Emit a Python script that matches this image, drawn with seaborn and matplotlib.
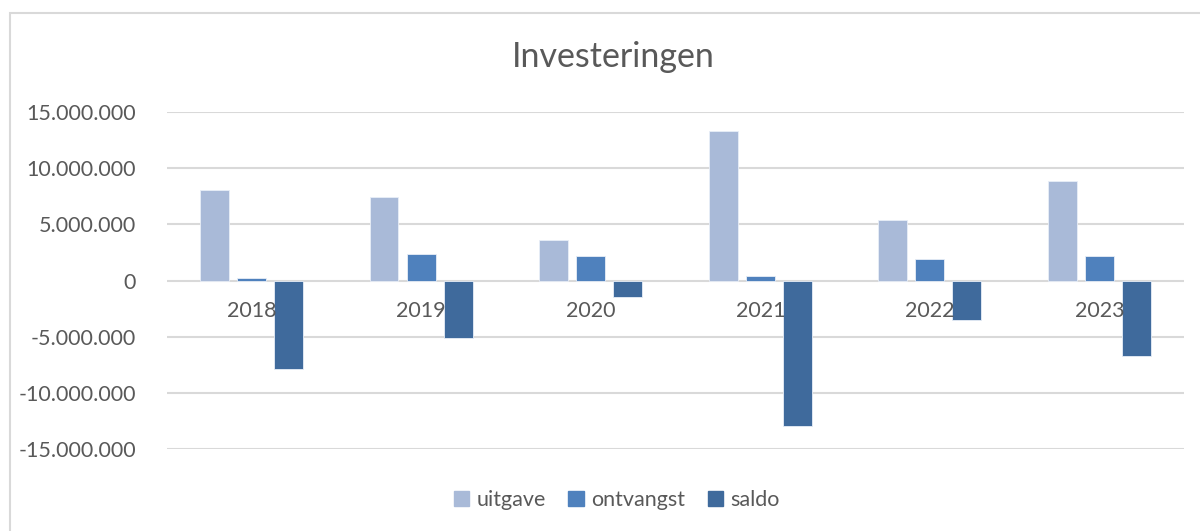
import pandas as pd
import matplotlib.pyplot as plt
import matplotlib.ticker as mticker
from matplotlib.patches import Rectangle
import seaborn as sns

# data
jaren = ['2018', '2019', '2020', '2021', '2022', '2023']
uitgave = [8070000, 7480000, 3650000, 13350000, 5430000, 8900000]
ontvangst = [200000, 2340000, 2220000, 420000, 1900000, 2200000]
saldo = [-7870000, -5140000, -1430000, -12930000, -3530000, -6700000]
reeksen = ['uitgave', 'ontvangst', 'saldo']
kleuren = ['#A9BAD8', '#4F81BD', '#3F6A9C']

df = pd.DataFrame({'jaar': jaren * 3,
                   'reeks': [r for r in reeksen for _ in jaren],
                   'waarde': uitgave + ontvangst + saldo})

sns.set_style('white')
plt.rcParams['font.family'] = ['Lato', 'DejaVu Sans']
tekst = '#595959'

fig = plt.figure(figsize=(12, 5.31), dpi=100)
ax = fig.add_axes([0.1389, 0.1539, 0.848, 0.6352])

sns.barplot(data=df, x='jaar', y='waarde', hue='reeks', hue_order=reeksen,
            palette=kleuren, saturation=1, width=0.655, gap=0.22, ax=ax,
            legend=False, edgecolor='#E8EEF7', linewidth=0.6)

ax.set_ylim(-15000000, 15000000)
ax.set_xlim(-0.5, 5.5)
ax.yaxis.set_major_locator(mticker.MultipleLocator(5000000))
ax.yaxis.set_major_formatter(mticker.FuncFormatter(lambda v, p: f'{int(v):,}'.replace(',', '.')))
ax.grid(axis='y', color='#D9D9D9', linewidth=1.5)
ax.set_axisbelow(True)
for s in ax.spines.values():
    s.set_visible(False)
ax.tick_params(axis='y', length=0, pad=22, labelsize=15.5, labelcolor=tekst)
ax.tick_params(axis='x', length=0)
ax.set_xticklabels([])
ax.set_xlabel('')
ax.set_ylabel('')

# category labels sit just below the zero line, like Excel
for i, j in enumerate(jaren):
    ax.annotate(j, xy=(i, 0), xytext=(0, -22), textcoords='offset points',
                ha='center', va='center', fontsize=15.5, color=tekst, zorder=1)

fig.text(0.511, 0.893, 'Investeringen', ha='center', va='center',
         fontsize=24.5, color=tekst)

handles = [Rectangle((0, 0), 1, 1, color=c) for c in kleuren]
fig.legend(handles, reeksen, loc='center', bbox_to_anchor=(0.514, 0.058),
           ncol=3, frameon=False, fontsize=15.5, labelcolor=tekst,
           handlelength=0.7, handleheight=0.7, handletextpad=0.35,
           columnspacing=1.05)

fig.patches.append(Rectangle((10 / 1200, -0.2), 1.2, 1 - 13 / 531 + 0.2,
                             transform=fig.transFigure, fill=False,
                             edgecolor='#D9D9D9', linewidth=1.5))

fig.savefig('out.png', dpi=100, facecolor='white')
